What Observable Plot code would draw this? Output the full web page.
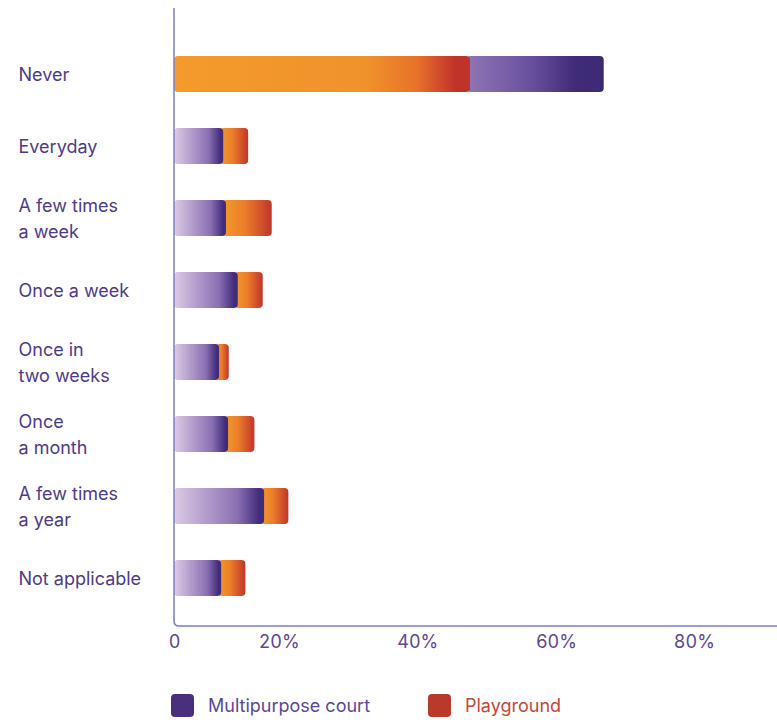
<!DOCTYPE html>
<html><head><meta charset="utf-8">
<script src="https://cdn.jsdelivr.net/npm/d3@7"></script>
<script src="https://cdn.jsdelivr.net/npm/@observablehq/plot@0.6"></script>
<style>
body{margin:0;background:#fff;font-family:Inter,"Noto Sans",sans-serif;}
#chart svg{display:block;}
#legend{position:relative;height:52px;}
.item{position:absolute;top:26px;display:flex;align-items:center;font-size:18px;}
.sw{width:23px;height:23px;border-radius:4px;margin-right:14px;}
</style></head><body><div id="chart"></div><div id="legend"></div>
<script>
const categories = ["Never","Everyday","A few times a week","Once a week","Once in two weeks","Once a month","A few times a year","Not applicable"];
const categoryLabels = ["Never","Everyday","A few times\na week","Once a week","Once in\ntwo weeks","Once\na month","A few times\na year","Not applicable"];
const courtValues = [19.3, 7.1, 7.5, 9.2, 6.5, 7.8, 13.0, 6.8];
const playgroundValues = [42.7, 3.6, 6.6, 3.6, 1.4, 3.8, 3.5, 3.5];
const xTickValues = [0, 15.1, 35.1, 55.1, 75.0];
const xTickLabels = ["0","20%","40%","60%","80%"];
const seriesNames = ["Multipurpose court","Playground"];
const seriesColors = ["#4a2f7f","#b9392a"];
const seriesTextColors = ["#5b4798","#c4473a"];

const rows = categories.map((c,i)=>({category:c, label:categoryLabels[i], court:courtValues[i], play:playgroundValues[i]}));
const courtFirst = rows.filter(d=>d.category!=="Never");
const playFirst = rows.filter(d=>d.category==="Never");
const overlap = 0.5;
const tickMap = new Map(xTickValues.map((v,i)=>[v,xTickLabels[i]]));

function defs(){
  const g = document.createElementNS("http://www.w3.org/2000/svg","defs");
  g.innerHTML = `
  <linearGradient id="courtFirst" x1="0" x2="1" y1="0" y2="0">
    <stop offset="0" stop-color="#dccbe3"/>
    <stop offset="0.35" stop-color="#b39dcc"/>
    <stop offset="0.7" stop-color="#8b70b3"/>
    <stop offset="0.95" stop-color="#412c7a"/>
  </linearGradient>
  <linearGradient id="playSecond" x1="0" x2="1" y1="0" y2="0">
    <stop offset="0" stop-color="#f29a2c"/>
    <stop offset="0.45" stop-color="#ec7e2a"/>
    <stop offset="1" stop-color="#c0352a"/>
  </linearGradient>
  <linearGradient id="playFirst" x1="0" x2="1" y1="0" y2="0">
    <stop offset="0" stop-color="#f49b2c"/>
    <stop offset="0.65" stop-color="#f0922b"/>
    <stop offset="0.82" stop-color="#e8722a"/>
    <stop offset="0.95" stop-color="#c0332a"/>
  </linearGradient>
  <linearGradient id="courtSecond" x1="0" x2="1" y1="0" y2="0">
    <stop offset="0" stop-color="#8f76b5"/>
    <stop offset="0.45" stop-color="#6b52a0"/>
    <stop offset="0.8" stop-color="#3f2b78"/>
    <stop offset="1" stop-color="#3d2a76"/>
  </linearGradient>`;
  return g;
}

function axisLines(index, {x}, values, dims){
  const x0 = x(0), yb = dims.height - dims.marginBottom, r = 5;
  const p = document.createElementNS("http://www.w3.org/2000/svg","path");
  p.setAttribute("d", `M${x0},8V${yb-r}Q${x0},${yb} ${x0+r},${yb}H${dims.width}`);
  p.setAttribute("fill","none");
  p.setAttribute("stroke","#7b7dc8");
  p.setAttribute("stroke-width","1.5");
  return p;
}

const chart = Plot.plot({
  width: 777, height: 668,
  marginLeft: 174, marginRight: 0, marginTop: 26, marginBottom: 42,
  style: {fontFamily: "Inter, 'Noto Sans', sans-serif", background: "#fff"},
  x: {domain: [0, 87], axis: null},
  y: {domain: categories, paddingInner: 0.5, paddingOuter: 0.41, axis: null},
  marks: [
    defs,
    Plot.barX(courtFirst, {y: "category", x1: d => d.court - overlap, x2: d => d.court + d.play, fill: "url(#playSecond)", rx: 4}),
    Plot.barX(courtFirst, {y: "category", x1: 0, x2: "court", fill: "url(#courtFirst)", rx: 4}),
    Plot.barX(playFirst, {y: "category", x1: d => d.play - overlap, x2: d => d.play + d.court, fill: "url(#courtSecond)", rx: 4}),
    Plot.barX(playFirst, {y: "category", x1: 0, x2: "play", fill: "url(#playFirst)", rx: 4}),
    axisLines,
    Plot.text(rows, {y: "category", text: "label", frameAnchor: "left", dx: -156, dy: -1.5, textAnchor: "start", lineHeight: 1.4, fontSize: 18, fill: "#4d3b8a"}),
    Plot.axisX({ticks: xTickValues, tickFormat: d => tickMap.get(d), tickSize: 0, tickPadding: 9, fontSize: 18, color: "#5a4796"})
  ]
});
document.getElementById("chart").append(chart);

const legend = document.getElementById("legend");
const lefts = [171, 428];
seriesNames.forEach((n,i)=>{
  const it = document.createElement("div");
  it.className = "item";
  it.style.left = lefts[i] + "px";
  it.innerHTML = `<span class="sw" style="background:${seriesColors[i]}"></span><span style="color:${seriesTextColors[i]}">${n}</span>`;
  legend.append(it);
});
</script>
</body></html>
